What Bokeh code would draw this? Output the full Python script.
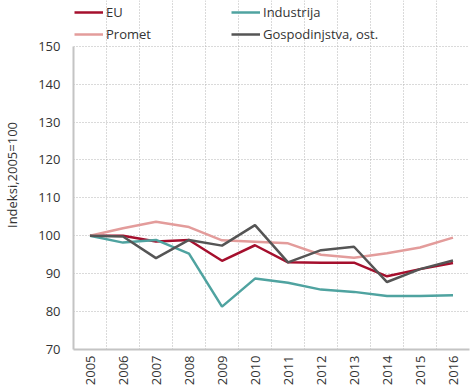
import math
from bokeh.plotting import figure
from bokeh.models import FixedTicker, Legend, LegendItem, Range1d
from bokeh.embed import file_html
from bokeh.resources import INLINE

years = [2005, 2006, 2007, 2008, 2009, 2010, 2011, 2012, 2013, 2014, 2015, 2016]
eu = [100, 100, 98.5, 98.9, 93.4, 97.5, 93.0, 92.9, 92.9, 89.3, 91.2, 92.8]
industrija = [100, 98.2, 98.9, 95.3, 81.3, 88.7, 87.6, 85.8, 85.2, 84.1, 84.1, 84.3]
promet = [100, 102.0, 103.7, 102.3, 98.8, 98.4, 98.0, 95.0, 94.2, 95.4, 96.9, 99.5]
gospodinjstva = [100, 99.8, 94.1, 98.9, 97.4, 102.8, 93.0, 96.2, 97.1, 87.8, 91.2, 93.5]
y_ticks = [70, 80, 90, 100, 110, 120, 130, 140, 150]
y_label = "Indeksi,2005=100"

FONT = "Open Sans"
TXT = "#333333"

W, H = 472, 388
TOP_PX, BOTTOM_PX = 46, 351          # pixel rows of the 150 and 70 lines
ymin, ymax = y_ticks[0], y_ticks[-1]
y_top = ymin + BOTTOM_PX * (ymax - ymin) / (BOTTOM_PX - TOP_PX)  # room for legend

p = figure(width=W, height=H, output_backend="svg", toolbar_location=None,
           x_range=Range1d(years[0] - 0.5, years[-1] + 0.5), y_range=Range1d(ymin, y_top),
           min_border_left=72, min_border_right=3, min_border_top=0,
           min_border_bottom=H - BOTTOM_PX)
p.outline_line_color = None
p.background_fill_color = "white"
p.border_fill_color = "white"

r_eu = p.line(years, eu, line_color="#a50f2d", line_width=2.5)
r_ind = p.line(years, industrija, line_color="#4fa3a0", line_width=2.5)
r_pro = p.line(years, promet, line_color="#e39c9b", line_width=2.5)
r_gos = p.line(years, gospodinjstva, line_color="#555555", line_width=2.5)

# axes
p.xaxis.ticker = FixedTicker(ticks=years)
p.xaxis.major_label_orientation = math.pi / 2
p.yaxis.ticker = FixedTicker(ticks=y_ticks)
p.yaxis.bounds = (ymin, ymax)
for ax in (p.xaxis[0], p.yaxis[0]):
    ax.axis_line_color = "#c4c4c4"
    ax.axis_line_width = 2
    ax.major_tick_line_color = None
    ax.minor_tick_line_color = None
    ax.major_tick_out = 0
    ax.major_tick_in = 0
    ax.minor_tick_out = 0
    ax.major_label_text_font = FONT
    ax.major_label_text_font_size = "13px"
    ax.major_label_text_color = TXT
p.yaxis.major_label_standoff = 13
p.xaxis.major_label_standoff = 6
p.yaxis.axis_label = y_label
p.yaxis.axis_label_text_font = FONT
p.yaxis.axis_label_text_font_size = "13px"
p.yaxis.axis_label_text_font_style = "normal"
p.yaxis.axis_label_text_color = TXT
p.yaxis.axis_label_standoff = 14

# grids
p.xgrid.ticker = FixedTicker(ticks=[y + 0.5 for y in years])
p.xgrid.bounds = (ymin, ymax)
p.ygrid.ticker = FixedTicker(ticks=y_ticks[1:])
for g in (p.xgrid[0], p.ygrid[0]):
    g.grid_line_color = "#b5b5b5"
    g.grid_line_dash = "1 2"
    g.grid_line_width = 1

def mk_legend(items, x):
    return Legend(items=items, location=(x, BOTTOM_PX - 45), orientation="vertical",
                  padding=0, margin=0, spacing=4, glyph_width=29, glyph_height=16,
                  label_height=16, label_standoff=3,
                  label_text_font=FONT, label_text_font_size="13px", label_text_color=TXT,
                  background_fill_alpha=0, border_line_color=None)

p.add_layout(mk_legend([LegendItem(label="EU", renderers=[r_eu]),
                        LegendItem(label="Promet", renderers=[r_pro])], 1), "center")
p.add_layout(mk_legend([LegendItem(label="Industrija", renderers=[r_ind]),
                        LegendItem(label="Gospodinjstva, ost.", renderers=[r_gos])], 158), "center")

open("out.html", "w").write(file_html(p, INLINE))
